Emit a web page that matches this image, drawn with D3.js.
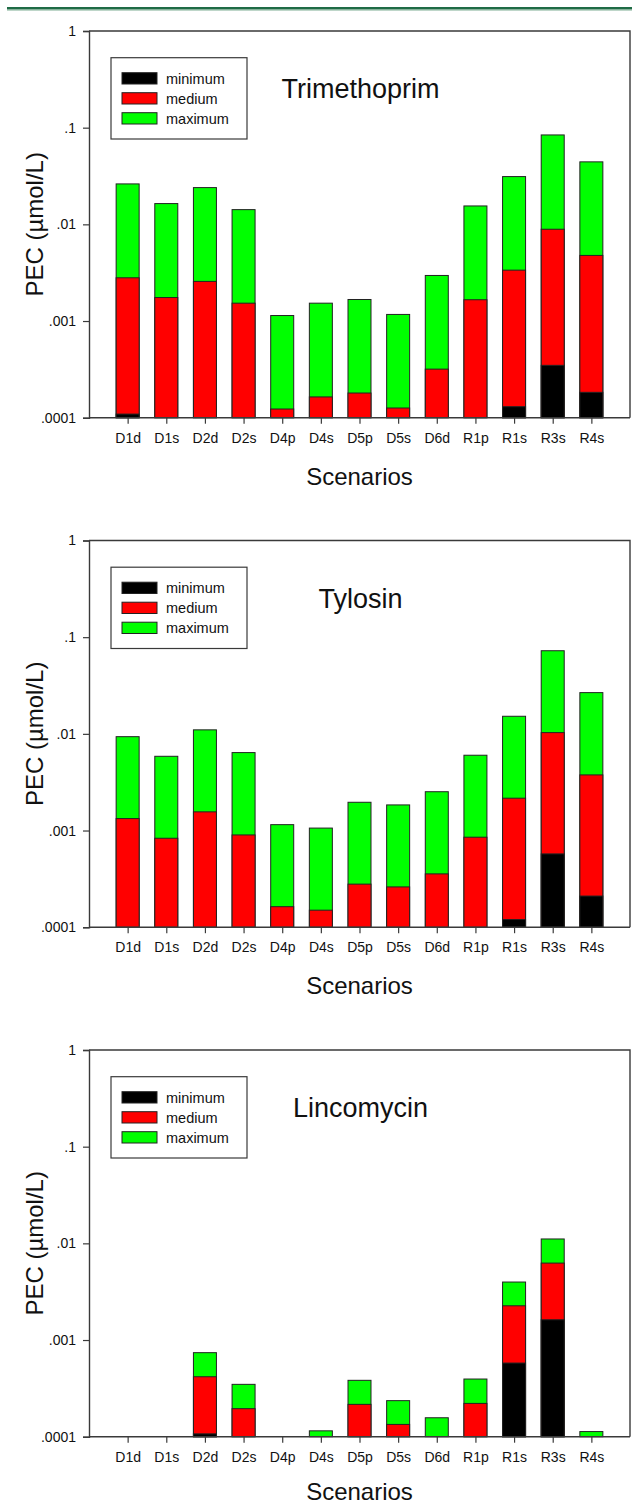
<!DOCTYPE html>
<html>
<head>
<meta charset="utf-8">
<script src="https://cdn.jsdelivr.net/npm/d3@7"></script>
<style>
  html, body { margin: 0; padding: 0; background: #fff; }
  svg { display: block; font-family: "Liberation Sans", Arial, sans-serif; }
</style>
</head>
<body>
<svg id="chart" width="632" height="1506"></svg>
<script>
// ---- data ----
const categories = ["D1d","D1s","D2d","D2s","D4p","D4s","D5p","D5s","D6d","R1p","R1s","R3s","R4s"];
const seriesNames = ["minimum","medium","maximum"];
const seriesColors = ["#000000","#ff0000","#00ff00"];
const yTickValues = [1, 0.1, 0.01, 0.001, 0.0001];
const yTickLabels = ["1", ".1", ".01", ".001", ".0001"];

const trimMin = [0.000109, null, null, null, null, null, null, null, null, null, 0.00013, 0.000348, 0.000183];
const trimMed = [0.0028, 0.00175, 0.00257, 0.00153, 0.000123, 0.000164, 0.00018, 0.000126, 0.000318, 0.00166, 0.00336, 0.0089, 0.00477];
const trimMax = [0.0262, 0.0164, 0.024, 0.0142, 0.00114, 0.00153, 0.00167, 0.00117, 0.00296, 0.0155, 0.0312, 0.0841, 0.0443];

const tyloMin = [null, null, null, null, null, null, null, null, null, null, 0.00012, 0.000573, 0.00021];
const tyloMed = [0.00133, 0.000832, 0.00156, 0.0009, 0.000163, 0.00015, 0.000279, 0.000261, 0.000356, 0.000853, 0.00216, 0.0103, 0.00376];
const tyloMax = [0.00935, 0.00586, 0.011, 0.0064, 0.00115, 0.00106, 0.00196, 0.00184, 0.00252, 0.00601, 0.0152, 0.0724, 0.0267];

const lincMin = [null, null, 0.000107, null, null, null, null, null, null, null, 0.000578, 0.00162, null];
const lincMed = [null, null, 0.000417, 0.000195, null, null, 0.000216, 0.000134, null, 0.000221, 0.00226, 0.00625, null];
const lincMax = [null, null, 0.00074, 0.000348, null, 0.000115, 0.000383, 0.000236, 0.000157, 0.000395, 0.00398, 0.0111, 0.000113];

const panels = [
  { title: "Trimethoprim", series: [trimMin, trimMed, trimMax] },
  { title: "Tylosin",      series: [tyloMin, tyloMed, tyloMax] },
  { title: "Lincomycin",   series: [lincMin, lincMed, lincMax] }
];

// ---- layout ----
const W = 632, H = 1506;
const svg = d3.select("#chart");
const axisColor = "#3a3a3a";
svg.append("rect").attr("x", 7).attr("y", 7).attr("width", 625).attr("height", 2.5).attr("fill", "#1f6b45");
svg.append("rect").attr("x", 7).attr("y", 9.5).attr("width", 625).attr("height", 1).attr("fill", "#7fae94");

const left = 89, right = 630;
const panelTop0 = 31, panelPitch = 509.5, plotH = 386.7;

const x = d3.scalePoint().domain(categories).range([left, right]).padding(1);
const barW = 23;

panels.forEach((p, pi) => {
  const top = panelTop0 + pi * panelPitch;
  const bottom = top + plotH;
  const y = d3.scaleLog().domain([0.0001, 1]).range([bottom, top]);
  const g = svg.append("g");

  // bars: maximum behind, then medium, then minimum
  for (let si = 2; si >= 0; si--) {
    const vals = p.series[si];
    g.selectAll(null)
      .data(categories.map((c, i) => ({ c, v: vals[i] })).filter(d => d.v != null && d.v > 0.0001))
      .enter().append("rect")
      .attr("x", d => x(d.c) - barW / 2)
      .attr("y", d => y(d.v))
      .attr("width", barW)
      .attr("height", d => bottom - y(d.v))
      .attr("fill", seriesColors[si])
      .attr("stroke", "#222")
      .attr("stroke-width", 1);
  }

  // frame (top + right)
  g.append("path")
    .attr("d", `M${left},${top}H${right}V${bottom}`)
    .attr("fill", "none").attr("stroke", axisColor).attr("stroke-width", 1.4);

  // y axis
  const yAxis = d3.axisLeft(y).tickValues(yTickValues)
    .tickFormat((d, i) => yTickLabels[i]).tickSize(6).tickPadding(7);
  const ya = g.append("g").attr("transform", `translate(${left},0)`).call(yAxis);
  ya.select(".domain").attr("stroke", axisColor).attr("stroke-width", 1.4);
  ya.selectAll(".tick line").attr("stroke", axisColor).attr("stroke-width", 1.2);
  ya.selectAll(".tick text").attr("font-size", 14).attr("fill", "#111")
    .attr("font-family", "Liberation Sans, Arial, sans-serif");

  // x axis
  const xAxis = d3.axisBottom(x).tickSize(6).tickPadding(9);
  const xa = g.append("g").attr("transform", `translate(0,${bottom})`).call(xAxis);
  xa.select(".domain").attr("d", `M${left},0H${right}`).attr("stroke", axisColor).attr("stroke-width", 1.4);
  xa.selectAll(".tick line").attr("stroke", axisColor).attr("stroke-width", 1.2);
  xa.selectAll(".tick text").attr("font-size", 14).attr("fill", "#111")
    .attr("font-family", "Liberation Sans, Arial, sans-serif");

  // x title
  const xtY = Math.min(bottom + 67, H - 6);
  g.append("text").attr("x", (left + right) / 2).attr("y", xtY)
    .attr("text-anchor", "middle").attr("font-size", 24).attr("fill", "#111").text("Scenarios");

  // y title
  g.append("text").attr("transform", `translate(43,${(top + bottom) / 2}) rotate(-90)`)
    .attr("text-anchor", "middle").attr("font-size", 24).attr("fill", "#111").text("PEC (µmol/L)");

  // panel title
  g.append("text").attr("x", (left + right) / 2 + 1).attr("y", top + 67)
    .attr("text-anchor", "middle").attr("font-size", 27).attr("fill", "#111").text(p.title);

  // legend
  const lg = g.append("g");
  lg.append("rect").attr("x", 111).attr("y", top + 26.7).attr("width", 136).attr("height", 81.3)
    .attr("fill", "#fff").attr("stroke", axisColor).attr("stroke-width", 1.2);
  seriesNames.forEach((n, i) => {
    lg.append("rect").attr("x", 122).attr("y", top + 41.7 + i * 20).attr("width", 35).attr("height", 11.3)
      .attr("fill", seriesColors[i]).attr("stroke", "#222").attr("stroke-width", 1);
    lg.append("text").attr("x", 166).attr("y", top + 52.5 + i * 20)
      .attr("font-size", 14.5).attr("fill", "#111").text(n);
  });
});
</script>
</body>
</html>
